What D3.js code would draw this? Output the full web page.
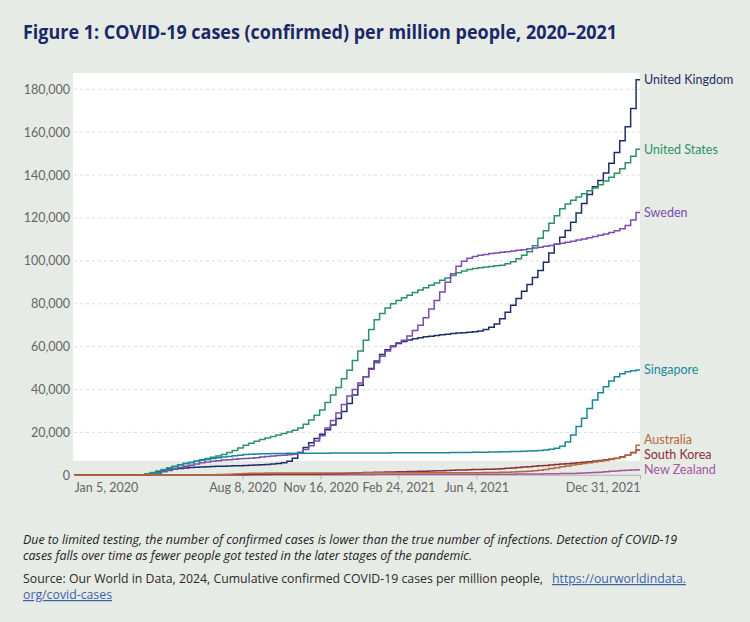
<!DOCTYPE html>
<html><head><meta charset="utf-8">
<script src="https://cdn.jsdelivr.net/npm/d3@7"></script>
<style>
html,body{margin:0;padding:0;background:#e7ebe6;}
svg{display:block;}
</style></head><body>
<svg id="chart" width="750" height="622"></svg>
<script>
// ---------- DATA ----------
const startDate = new Date(2020, 0, 5);
const endDate = new Date(2021, 11, 31);
// weekly reporting dates (Sundays): Jan 5, 2020 ... Dec 26, 2021
const weeks = d3.timeWeek.range(new Date(2020, 0, 5), new Date(2021, 11, 27));

const countries = ["United Kingdom", "United States", "Sweden", "Singapore", "New Zealand", "South Korea", "Australia"];

const ukValues = [0,0,0,0,0,0,0,0,0,0,20,80,290,600,1200,1700,2100,2500,2900,3200,3450,3650,3800,3900,4000,4100,4180,4250,4320,4400,4480,4570,4670,4780,4900,5050,5250,5500,5900,6600,8000,10300,13000,15200,17200,19200,21200,23500,26500,29800,33500,37500,42000,46000,49800,53300,56300,58600,60300,61500,62400,63100,63700,64200,64600,64900,65200,65500,65800,66100,66300,66500,66700,66900,67300,68000,69000,70500,73000,76000,79300,82500,85800,89000,92200,95500,99300,103700,107800,111000,114200,118000,122300,126800,131000,134500,137500,141000,145500,150500,156000,162500,171000,184500];

const usValues = [0,0,0,0,0,0,0,0,0,0,10,80,150,600,1300,2000,2700,3500,4200,4900,5500,6000,6600,7200,7800,8400,9000,9700,10600,11600,12700,14000,15000,15900,16700,17400,18100,18800,19500,20200,21000,22000,23800,25800,28000,30500,34000,37500,41000,45000,49000,53500,58000,63000,68000,72500,75500,78000,80000,81500,82800,84000,85200,86400,87500,88600,89700,90900,92000,93200,94400,95300,96000,96400,96800,97100,97400,97700,98000,98600,99600,101000,102600,104200,107000,110500,114000,117500,121000,124300,126500,128300,129800,131300,132700,134000,135500,137200,139000,140800,143000,145800,148800,152000];

const swedenValues = [0,0,0,0,0,0,0,0,0,0,10,20,40,300,600,1000,1600,2200,3000,3600,4200,4700,5300,5800,6200,6500,6800,7100,7300,7500,7700,7850,8000,8200,8500,8800,9000,9200,9400,9600,9800,10700,12000,13800,16000,18500,22000,25500,29000,33000,37000,40000,43000,46000,49500,52500,55500,58000,60000,61800,63000,65000,67500,70000,73500,77500,81500,85500,90000,94000,97500,99800,101200,102000,102600,103000,103400,103700,104000,104300,104600,104900,105200,105600,106000,106400,106800,107200,107700,108200,108700,109200,109700,110200,110800,111300,111900,112500,113200,114000,115000,116500,119000,122500];

const singaporeValues = [0,0,0,0,0,0,0,0,0,0,0,0,100,200,500,1200,2300,3100,4000,4900,5500,6000,6500,7000,7400,7800,8200,8500,8800,9100,9400,9650,9850,9950,10050,10100,10150,10200,10220,10240,10260,10280,10300,10310,10320,10330,10340,10350,10360,10370,10380,10390,10400,10410,10420,10430,10440,10450,10460,10470,10480,10490,10500,10510,10520,10530,10540,10550,10570,10590,10610,10630,10660,10700,10740,10780,10830,10880,10940,11000,11060,11130,11220,11330,11460,11620,11800,12100,12600,13500,15500,18800,22700,26600,31200,35100,38500,41300,44000,46000,47300,48300,48800,49100];

const newZealandValues = [0,0,0,0,0,0,0,0,0,0,0,20,100,180,230,260,280,285,290,295,300,300,300,300,300,300,300,300,300,300,300,305,320,330,340,350,355,360,362,364,366,368,370,372,375,378,382,386,390,395,400,410,420,425,430,435,440,445,450,455,460,465,470,475,480,485,490,495,500,505,510,515,520,525,530,535,540,542,544,546,548,550,552,555,600,650,700,730,760,790,830,880,950,1040,1150,1300,1480,1680,1880,2050,2200,2330,2440,2550];

const southKoreaValues = [0,0,0,0,0,0,0,12,72,140,160,175,190,198,205,208,210,212,215,218,222,226,232,237,242,248,252,258,265,272,282,300,340,380,400,420,435,450,465,478,490,502,515,528,545,575,620,680,760,860,960,1070,1170,1260,1340,1410,1470,1530,1580,1630,1680,1730,1790,1860,1930,2000,2080,2160,2240,2330,2420,2510,2590,2670,2740,2810,2850,2950,3100,3280,3460,3640,3830,4020,4220,4420,4620,4820,5020,5220,5430,5650,5880,6120,6370,6630,6900,7200,7550,8000,8600,9400,10500,11800];

const australiaValues = [0,0,0,0,0,0,0,0,0,0,20,60,160,220,250,260,265,270,275,280,283,286,290,295,300,310,340,400,490,590,700,820,900,960,1000,1030,1045,1055,1060,1065,1070,1075,1080,1085,1090,1095,1100,1105,1110,1115,1120,1125,1130,1135,1140,1145,1150,1155,1160,1165,1170,1175,1180,1185,1190,1195,1200,1205,1210,1215,1220,1225,1230,1235,1245,1260,1290,1330,1380,1440,1510,1600,1720,1880,2100,2400,2750,3150,3550,3950,4350,4750,5150,5550,5900,6250,6600,6950,7350,7800,8400,9300,10800,14000];

const yTicks = [0,20000,40000,60000,80000,100000,120000,140000,160000,180000];
const xTickDates = [new Date(2020,0,5), new Date(2020,7,8), new Date(2020,10,16), new Date(2021,1,24), new Date(2021,5,4), new Date(2021,11,31)];

const titleText = "Figure 1: COVID-19 cases (confirmed) per million people, 2020–2021";
const noteLines = ["Due to limited testing, the number of confirmed cases is lower than the true number of infections. Detection of COVID-19",
                   "cases falls over time as fewer people got tested in the later stages of the pandemic."];
const sourceText = "Source: Our World in Data, 2024, Cumulative confirmed COVID-19 cases per million people,";
const linkLines = ["https://ourworldindata.", "org/covid-cases"];

// ---------- STYLE ----------
const colors = {
  "United Kingdom": "#1e2f68",
  "United States": "#2b9266",
  "Sweden": "#7d4caf",
  "Singapore": "#18889a",
  "New Zealand": "#a4569f",
  "South Korea": "#8a2e3c",
  "Australia": "#b5683a"
};
const valuesByCountry = {
  "United Kingdom": ukValues,
  "United States": usValues,
  "Sweden": swedenValues,
  "Singapore": singaporeValues,
  "New Zealand": newZealandValues,
  "South Korea": southKoreaValues,
  "Australia": australiaValues
};

const svg = d3.select("#chart");
const W = 750, H = 622;
svg.append("rect").attr("width", W).attr("height", H).attr("fill", "#e7ebe6");

const plot = {left: 74, right: 640, top: 73, bottom: 475.3};
const x = d3.scaleTime().domain([startDate, endDate]).range([plot.left, plot.right]);
const y = d3.scaleLinear().domain([0, 180000]).range([plot.bottom, 89.3]);

// white plotting panel
svg.append("rect").attr("x", 73).attr("y", plot.top).attr("width", plot.right - 73).attr("height", 461 - plot.top).attr("fill", "#ffffff");

// title
svg.append("text").attr("x", 23).attr("y", 39).text(titleText)
  .attr("font-family", "'Open Sans', sans-serif").attr("font-weight", 700).attr("font-size", 19)
  .attr("fill", "#1b2868").attr("textLength", 594).attr("lengthAdjust", "spacingAndGlyphs");

// gridlines
svg.append("g").selectAll("line").data(yTicks.filter(d => d > 0)).join("line")
  .attr("x1", plot.left).attr("x2", plot.right)
  .attr("y1", d => y(d)).attr("y2", d => y(d))
  .attr("stroke", "#dcdcdc").attr("stroke-width", 1).attr("stroke-dasharray", "3,3");

// y axis
const yAxis = svg.append("g").attr("transform", `translate(${plot.left - 3},0)`)
  .call(d3.axisLeft(y).tickValues(yTicks).tickSize(0).tickPadding(1).tickFormat(d3.format(",")));
yAxis.select(".domain").remove();
yAxis.selectAll("text").attr("font-family", "Lato, sans-serif").attr("font-size", 12.5).attr("fill", "#666");

// x axis
const fmt = d3.timeFormat("%b %-d, %Y");
const xAxis = svg.append("g").attr("transform", `translate(0,${plot.bottom})`)
  .call(d3.axisBottom(x).tickValues(xTickDates).tickSize(4).tickPadding(4).tickFormat(fmt));
xAxis.select(".domain").attr("stroke", "#b5b5b5").attr("d", `M${plot.left},0H${plot.right}`);
xAxis.selectAll(".tick line").attr("stroke", "#b5b5b5");
xAxis.selectAll(".tick").filter((d, i) => i === 0).select("line").remove();
xAxis.selectAll("text").attr("font-family", "Lato, sans-serif").attr("font-size", 12.5).attr("fill", "#666");
xAxis.selectAll(".tick text").attr("text-anchor", (d, i, n) => i === 0 ? "start" : (i === n.length - 1 ? "end" : "middle"));

// lines
const line = d3.line().x(d => x(d.date)).y(d => y(d.value)).curve(d3.curveStepAfter);
const series = countries.map(name => {
  const vals = valuesByCountry[name];
  const pts = weeks.map((dt, i) => ({date: dt, value: vals[i]}));
  pts.push({date: endDate, value: vals[vals.length - 1]});
  return {name, pts, last: vals[vals.length - 1]};
});
svg.append("g").selectAll("path").data(series).join("path")
  .attr("d", d => line(d.pts)).attr("fill", "none")
  .attr("stroke", d => colors[d.name]).attr("stroke-width", 1.5).attr("stroke-linejoin", "miter");

// end labels with simple collision avoidance
const minGap = 15;
const labels = series.map(s => ({name: s.name, y: y(s.last)})).sort((a, b) => a.y - b.y);
for (let iter = 0; iter < 60; iter++) {
  for (let i = 1; i < labels.length; i++) {
    const gap = labels[i].y - labels[i - 1].y;
    if (gap < minGap) {
      const shift = (minGap - gap) / 2;
      labels[i].y += shift; labels[i - 1].y -= shift;
    }
  }
}
svg.append("g").selectAll("text").data(labels).join("text")
  .attr("x", 644).attr("y", d => d.y).attr("dy", "0.35em").text(d => d.name)
  .attr("font-family", "Lato, sans-serif").attr("font-size", 12.5).attr("fill", d => colors[d.name]);

// notes
const noteWidths = [654, 449];
noteLines.forEach((t, i) => {
  svg.append("text").attr("x", 23).attr("y", 544 + i * 16).text(t)
    .attr("font-family", "'Open Sans', sans-serif").attr("font-style", "italic").attr("font-size", 12)
    .attr("fill", "#222").attr("textLength", noteWidths[i]).attr("lengthAdjust", "spacingAndGlyphs");
});
svg.append("text").attr("x", 23).attr("y", 583).text(sourceText)
  .attr("font-family", "'Open Sans', sans-serif").attr("font-size", 12)
  .attr("fill", "#2a2a2a").attr("textLength", 520).attr("lengthAdjust", "spacingAndGlyphs");
const linkX = [552, 23], linkY = [583, 599], linkW = [134, 89];
linkLines.forEach((t, i) => {
  svg.append("text").attr("x", linkX[i]).attr("y", linkY[i]).text(t)
    .attr("font-family", "'Open Sans', sans-serif").attr("font-size", 12)
    .attr("fill", "#3a5fa8").attr("text-decoration", "underline")
    .attr("textLength", linkW[i]).attr("lengthAdjust", "spacingAndGlyphs");
});
</script>
</body></html>
